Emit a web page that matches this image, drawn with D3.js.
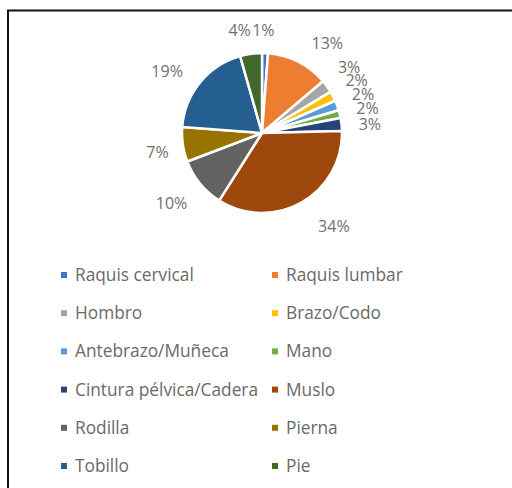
<!DOCTYPE html>
<html>
<head>
<meta charset="utf-8">
<script src="https://cdn.jsdelivr.net/npm/d3@7"></script>
<style>
  html, body { margin: 0; padding: 0; background: #fff; }
  svg { display: block; }
  text { font-family: "Open Sans", "Noto Sans", sans-serif; }
</style>
</head>
<body>
<svg id="chart" width="512" height="488"></svg>
<script>
// Injury locations and their share of cases (%)
const categories = [
  "Raquis cervical", "Raquis lumbar", "Hombro", "Brazo/Codo",
  "Antebrazo/Muñeca", "Mano", "Cintura pélvica/Cadera", "Muslo",
  "Rodilla", "Pierna", "Tobillo", "Pie"
];
const shares = [1.2, 12.6, 2.6, 2.0, 2.0, 1.6, 2.6, 34.4, 10.2, 7.0, 19.4, 4.4];

// Office palette, one colour per category
const palette = [
  "#4472C4", "#ED7D31", "#A5A5A5", "#FFC000", "#5B9BD5", "#70AD47",
  "#264478", "#9E480E", "#636363", "#997300", "#255E91", "#43682B"
];

// Label placement tweaks: [angle shift in degrees, radial shift in px]
const labelShift = [
  [-1.4, -5.5], [8, 1], [-1.4, 1], [-1.6, 0], [-0.8, 0], [0.7, 0],
  [1.8, 0], [-7, 8], [0, 4], [-2, -2], [-5, 2], [-4.4, -3]
];

const data = categories.map((c, i) => ({ name: c, value: shares[i], index: i }));
const total = d3.sum(shares);

const svg = d3.select("#chart");

// Frame lines (top and left)
svg.append("line").attr("x1", 7).attr("y1", 10.5).attr("x2", 512).attr("y2", 10.5)
  .attr("stroke", "#111").attr("stroke-width", 2);
svg.append("line").attr("x1", 8).attr("y1", 10).attr("x2", 8).attr("y2", 488)
  .attr("stroke", "#111").attr("stroke-width", 2);

const color = d3.scaleOrdinal().domain(categories).range(palette);

const cx = 262, cy = 133, radius = 80;
const pie = d3.pie().sort(null).value(d => d.value);
const arc = d3.arc().innerRadius(0).outerRadius(radius);
const arcs = pie(data);

const g = svg.append("g").attr("transform", `translate(${cx},${cy})`);

g.selectAll("path.slice")
  .data(arcs)
  .join("path")
  .attr("class", "slice")
  .attr("d", arc)
  .attr("fill", d => color(d.data.name))
  .attr("stroke", "#fff")
  .attr("stroke-width", 2.5)
  .attr("stroke-linejoin", "round");

// Percentage labels placed just outside the rim
const fmt = d3.format(".0%");
const labelR = radius + 17;
const labels = g.selectAll("text.pct")
  .data(arcs)
  .join("text")
  .attr("class", "pct")
  .attr("text-anchor", "middle")
  .attr("dy", "0.35em")
  .attr("font-size", 16)
  .attr("fill", "#707070")
  .text(d => fmt(d.data.value / total));

labels.each(function (d) {
  const sh = labelShift[d.data.index];
  const a = (d.startAngle + d.endAngle) / 2 + sh[0] * Math.PI / 180;
  const ux = Math.sin(a), uy = -Math.cos(a);
  const bb = this.getBBox();
  const rr = labelR + sh[1];
  const x = rr * ux + ux * bb.width / 2;
  const y = rr * uy + uy * bb.height / 2;
  d3.select(this).attr("x", x).attr("y", y);
});

// Legend: two columns, six rows
const legend = svg.append("g");
const colX = [64, 275];
const rowY0 = 275, rowStep = 38.2;
const items = legend.selectAll("g.item")
  .data(data)
  .join("g")
  .attr("class", "item")
  .attr("transform", (d, i) => `translate(${colX[i % 2]},${rowY0 + Math.floor(i / 2) * rowStep})`);

items.append("rect")
  .attr("x", -3).attr("y", -3).attr("width", 6).attr("height", 6)
  .attr("fill", d => color(d.name));

items.append("text")
  .attr("x", 11)
  .attr("dy", "0.35em")
  .attr("font-size", 17.3)
  .attr("fill", "#6a6a6a")
  .text(d => d.name);
</script>
</body>
</html>
